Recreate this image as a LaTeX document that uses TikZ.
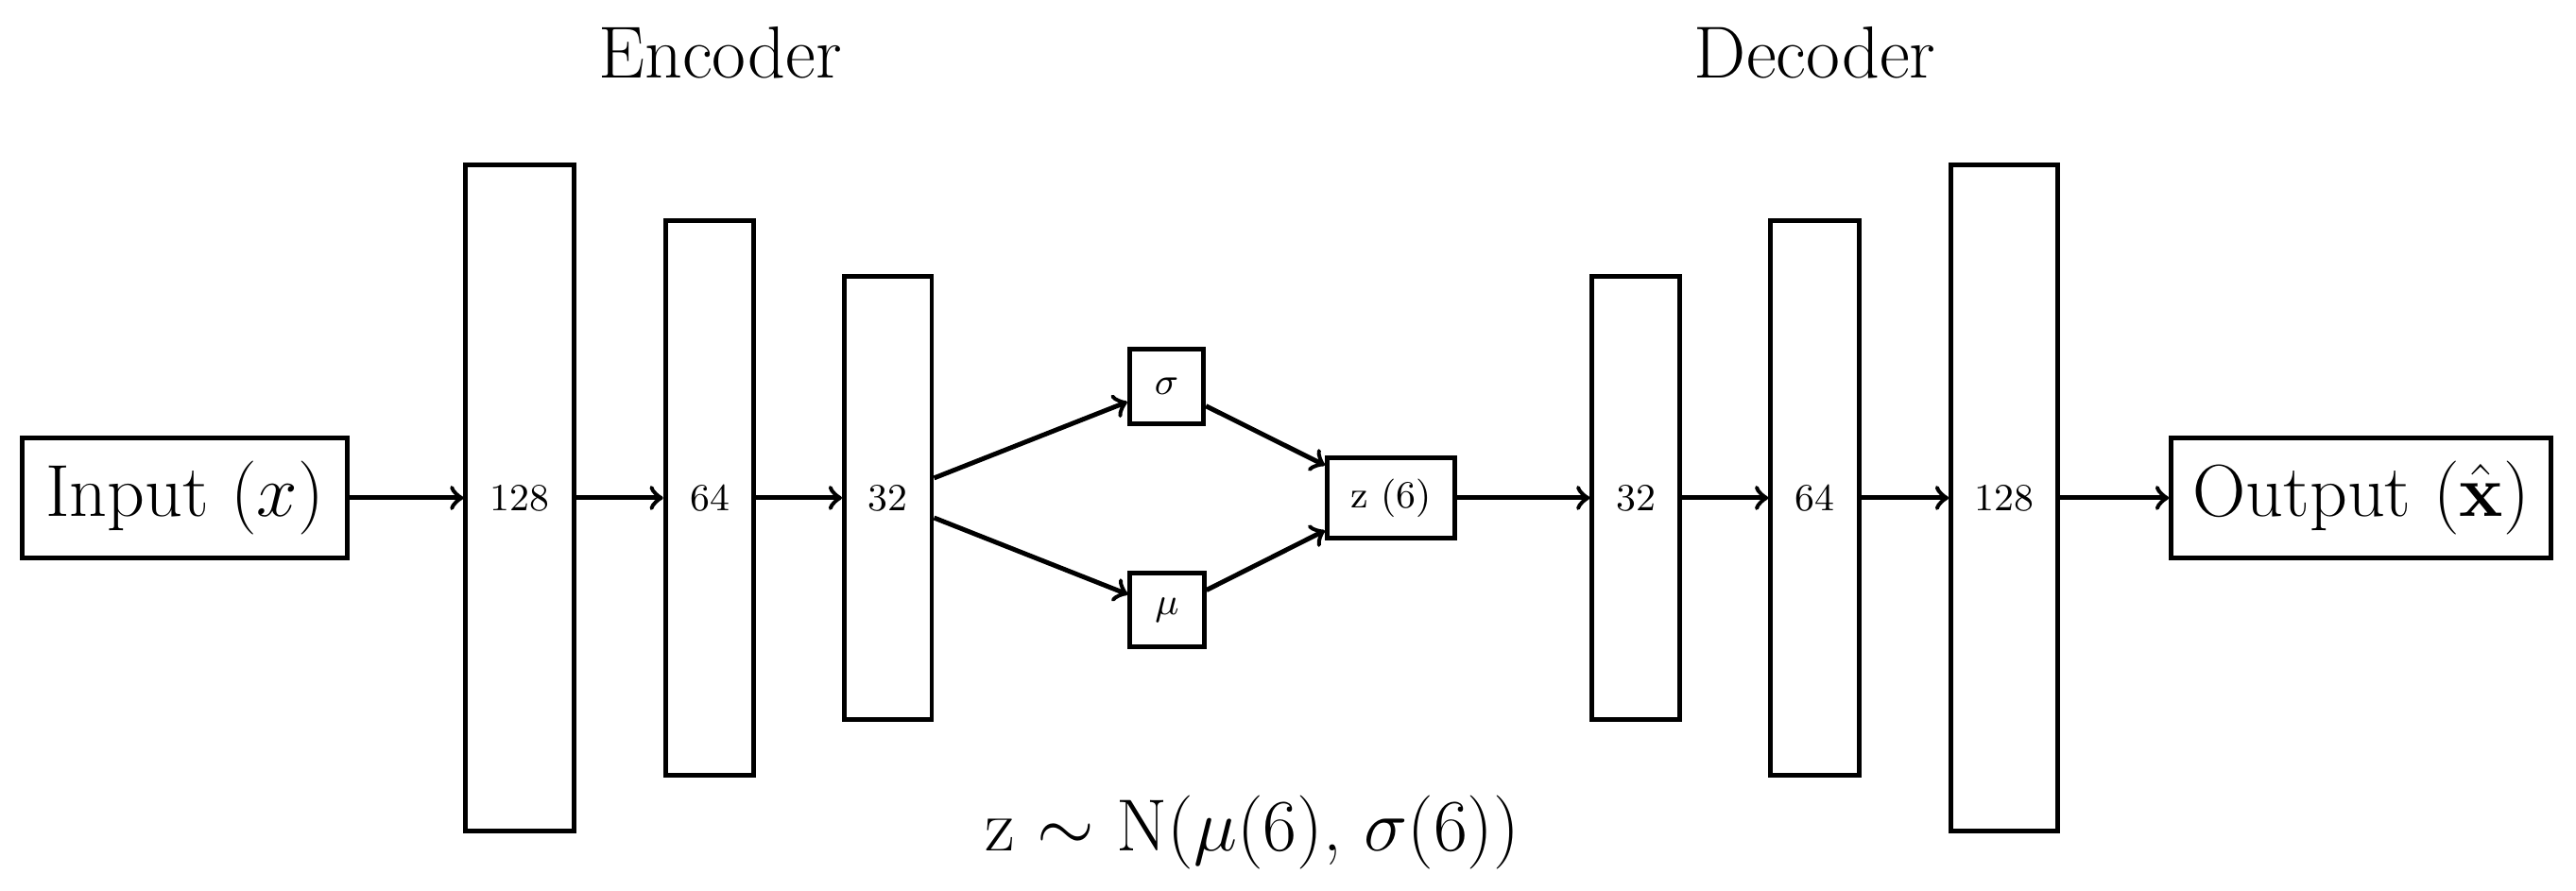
\documentclass[tikz,border=0pt]{standalone}
\usepackage{amsmath}
\usepackage{tikz}

\begin{document}
\begin{tikzpicture}[line width=1.1pt,
        layer/.style={draw, inner sep=0pt, font=\small},
        latent/.style={draw, inner sep=5.5pt, minimum size=0.61cm, font=\small},
        io/.style={draw, minimum width=#1, minimum height=0.99cm, font=\LARGE}]

        \useasboundingbox (0,-3.239) rectangle (21.225,4.103);

        % Draw the input and output boxes
        \node[io=2.68cm] (input) at (1.522,0) {Input ($x$)};
        \node[io=3.13cm] (output) at (19.454,0) {Output ($\hat{\mathbf{x}}$)};

        % Draw the encoder layers
        \node[layer, minimum width=0.89cm, minimum height=5.49cm] (enc1) at (4.283,0) {128};
        \node[layer, minimum width=0.73cm, minimum height=4.57cm] (enc2) at (5.848,0) {64};
        \node[layer, minimum width=0.72cm, minimum height=3.65cm] (enc3) at (7.317,0) {32};

        % Draw the latent part
        \node[latent] (sigma) at (9.612,0.919) {$\sigma$};
        \node[latent] (mu) at (9.616,-0.923) {$\mu$};
        \node[latent, inner ysep=5pt] (z) at (11.462,0) {z (6)};

        % Draw the decoder layers
        \node[layer, minimum width=0.72cm, minimum height=3.65cm] (dec1) at (13.478,0) {32};
        \node[layer, minimum width=0.73cm, minimum height=4.57cm] (dec2) at (14.954,0) {64};
        \node[layer, minimum width=0.88cm, minimum height=5.49cm] (dec3) at (16.515,0) {128};

        % Draw the titles and the sampling formula
        \node[font=\LARGE, anchor=base] (enctitle) at (5.933,3.457) {Encoder};
        \node[font=\LARGE, anchor=base] (dectitle) at (14.954,3.457) {Decoder};
        \node[font=\LARGE, anchor=base] (formula) at (10.317,-2.912)
            {z $\sim$ N($\mu$(6), $\sigma$(6))};

        % Draw the arrows
        \draw[->] (input) -- (enc1);
        \draw[->] (enc1) -- (enc2);
        \draw[->] (enc2) -- (enc3);
        \draw[->] ([yshift=0.164cm]enc3.east) -- (sigma);
        \draw[->] ([yshift=-0.164cm]enc3.east) -- (mu);
        \draw[->] (sigma) -- ([yshift=0.269cm]z.west);
        \draw[->] (mu) -- ([yshift=-0.269cm]z.west);
        \draw[->] (z) -- (dec1);
        \draw[->] (dec1) -- (dec2);
        \draw[->] (dec2) -- (dec3);
        \draw[->] (dec3) -- (output);

    \end{tikzpicture}
\end{document}
